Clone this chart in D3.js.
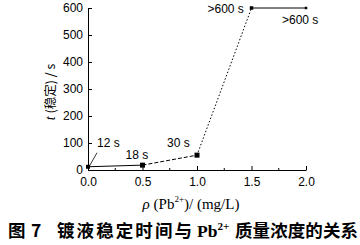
<!DOCTYPE html>
<html>
<head>
<meta charset="utf-8">
<script src="https://cdn.jsdelivr.net/npm/d3@7"></script>
<style>
  body { margin: 0; background: #fff; }
  svg { display: block; }
  .tick text { font-family: "Liberation Sans", Arial, sans-serif; font-size: 12px; fill: #000; }
</style>
</head>
<body>
<div id="chart"></div>
<script>
// data
var conc = [0.0, 0.5, 1.0, 1.5, 2.0];
var stableTime = [12, 18, 55, 600, 600];
var pointLabels = ['12 s', '18 s', '30 s', '>600 s', '>600 s'];
var xTicks = [0.0, 0.5, 1.0, 1.5, 2.0];
var yTicks = [0, 100, 200, 300, 400, 500, 600];
// segment styles between consecutive points
var segDash = ['none', '4,2', '1.5,2', 'none'];

var width = 360, height = 245;
var svg = d3.select('#chart').append('svg')
    .attr('width', width)
    .attr('height', height);

var x = d3.scaleLinear().domain([0, 2]).range([88, 306]);
var y = d3.scaleLinear().domain([0, 600]).range([170, 8]);

// x axis, ticks pointing inward
var xAxis = svg.append('g')
    .attr('transform', 'translate(0,' + y(0) + ')')
    .call(d3.axisBottom(x).tickValues(xTicks).tickFormat(d3.format('.1f'))
        .tickSizeInner(-4).tickSizeOuter(0).tickPadding(7));
xAxis.selectAll('.tick line').attr('stroke', '#000');
xAxis.select('.domain').attr('stroke', '#000');
xAxis.selectAll('.minor').data([0.25, 0.75, 1.25, 1.75]).enter()
    .append('line')
    .attr('class', 'minor')
    .attr('x1', function(d) { return x(d); })
    .attr('x2', function(d) { return x(d); })
    .attr('y1', 0).attr('y2', -2)
    .attr('stroke', '#000');

var yAxis = svg.append('g')
    .attr('transform', 'translate(' + x(0) + ',0)')
    .call(d3.axisLeft(y).tickValues(yTicks)
        .tickSizeInner(-4).tickSizeOuter(0).tickPadding(5));
yAxis.select('.domain').attr('stroke', '#000');
yAxis.selectAll('.tick line').attr('stroke', '#000');

// line segments
var segs = d3.range(conc.length - 1).map(function(i) {
    return { x1: conc[i], y1: stableTime[i], x2: conc[i + 1], y2: stableTime[i + 1], dash: segDash[i] };
});
svg.append('g').selectAll('line').data(segs).enter()
    .append('line')
    .attr('x1', function(d) { return x(d.x1); })
    .attr('y1', function(d) { return y(d.y1); })
    .attr('x2', function(d) { return x(d.x2); })
    .attr('y2', function(d) { return y(d.y2); })
    .attr('stroke', '#000')
    .attr('stroke-width', 1)
    .attr('stroke-dasharray', function(d) { return d.dash; });

// markers
var markSize = [4, 5, 5, 3.5, 2.5];
svg.append('g').selectAll('rect').data(conc).enter()
    .append('rect')
    .attr('x', function(d, i) { return x(d) - markSize[i] / 2; })
    .attr('y', function(d, i) { return y(stableTime[i]) - markSize[i] / 2; })
    .attr('width', function(d, i) { return markSize[i]; })
    .attr('height', function(d, i) { return markSize[i]; })
    .attr('fill', '#000');

// leader line for the first label
svg.append('line')
    .attr('x1', x(conc[0]) + 1).attr('y1', y(stableTime[0]))
    .attr('x2', x(conc[0]) + 9).attr('y2', y(stableTime[0]) - 14)
    .attr('stroke', '#000').attr('stroke-width', 0.8);

// point labels, offset from their points
var labelOff = [[9, -20], [-17, -6], [-30, -8], [-44, 5], [-24, 16]];
svg.append('g').selectAll('text').data(pointLabels).enter()
    .append('text')
    .attr('x', function(d, i) { return x(conc[i]) + labelOff[i][0]; })
    .attr('y', function(d, i) { return y(stableTime[i]) + labelOff[i][1]; })
    .style('font-family', '"Liberation Sans", Arial, sans-serif')
    .style('font-size', '12px')
    .text(function(d) { return d; });

// y title
var yt = svg.append('text')
    .attr('transform', 'translate(55,92) rotate(-90)')
    .attr('text-anchor', 'middle')
    .style('font-family', '"Liberation Sans", Arial, sans-serif')
    .style('font-size', '12.5px');
yt.append('tspan').style('font-family', '"Liberation Serif", serif').style('font-style', 'italic').style('font-size', '14px').text('t');
yt.append('tspan').style('font-family', '"Noto Sans CJK SC", sans-serif').text(' (稳定) / s');

// x title
var xt = svg.append('text')
    .attr('x', 191).attr('y', 209)
    .attr('text-anchor', 'middle')
    .style('font-family', '"Liberation Serif", "Times New Roman", serif')
    .style('font-size', '15px');
xt.append('tspan').style('font-style', 'italic').text('ρ');
xt.append('tspan').text(' (Pb');
xt.append('tspan').attr('dy', -7).style('font-size', '9px').text('2+');
xt.append('tspan').attr('dy', 7).text(')/ (mg/L)');

// caption
var cap = svg.append('text')
    .attr('y', 237)
    .style('font-family', '"Noto Sans CJK SC", sans-serif')
    .style('font-weight', 'bold')
    .style('font-size', '17.5px');
cap.append('tspan').attr('x', 8).text('图');
cap.append('tspan').attr('x', 31).text('7');
cap.append('tspan').attr('x', 57).attr('textLength', 135).attr('lengthAdjust', 'spacing').text('镀液稳定时间与');
cap.append('tspan').attr('x', 197).style('font-family', '"Liberation Serif", serif').text('Pb');
cap.append('tspan').attr('dy', -7).style('font-size', '11px').style('font-family', '"Liberation Serif", serif').text('2+');
cap.append('tspan').attr('x', 235).attr('dy', 7).attr('textLength', 123).attr('lengthAdjust', 'spacing').text('质量浓度的关系');
</script>
</body>
</html>
